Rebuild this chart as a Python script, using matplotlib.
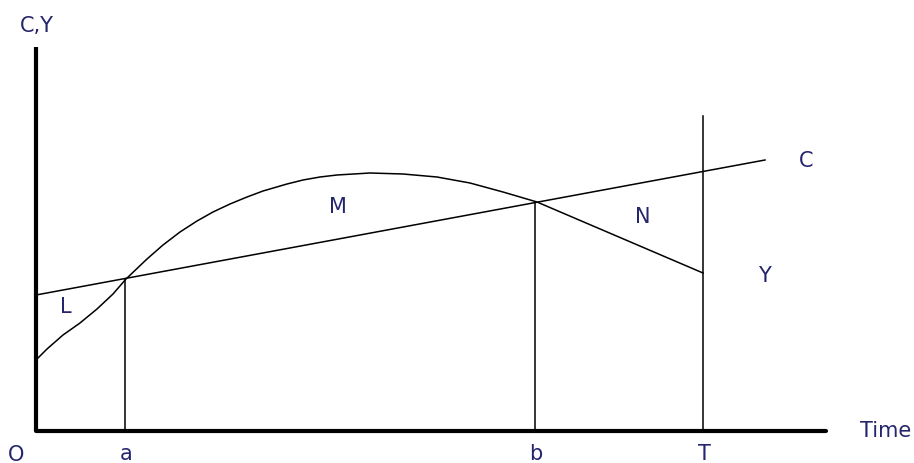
import matplotlib.pyplot as plt

plt.rcParams['font.family'] = ['DejaVu Sans']

# time measured from O, value in the same (arbitrary) units
c_time = [0, 729]
c_val = [136, 271]

y_time = [0, 11, 27, 44, 61, 77, 90, 111, 127, 144, 161, 177, 194, 211, 227,
          251, 267, 284, 301, 334, 367, 401, 434, 467, 501, 667]
y_val = [71, 82, 96, 108, 122, 137, 152, 172, 186, 199, 210, 219, 227, 234, 240,
         247, 251, 254, 256, 258, 257, 254, 248, 239, 229, 158]

# marked points on the time axis and how high their lines go
mark_time = [89, 499, 667]
mark_top = [152, 228, 315]
mark_names = ['a', 'b', 'T']

x_end = 790
y_end = 384

txt_col = '#25256e'

fig = plt.figure(figsize=(9.14, 4.64), dpi=100)
ax = fig.add_axes([0, 0, 1, 1])
ax.set_xlim(-36, 878)
ax.set_ylim(-32, 432)
ax.axis('off')

# axes
ax.plot([0, 0], [0, y_end], color='black', lw=3, solid_capstyle='butt')
ax.plot([0, x_end], [0, 0], color='black', lw=3, solid_capstyle='round')

# C and Y lines
ax.plot(c_time, c_val, color='black', lw=1.1)
ax.plot(y_time, y_val, color='black', lw=1.1, solid_joinstyle='round')

# verticals at a, b, T
for t, top in zip(mark_time, mark_top):
    ax.plot([t, t], [0, top], color='black', lw=1.1)

# labels
kw = dict(color=txt_col, fontsize=15, ha='center', va='baseline')
ax.text(1, 400, 'C,Y', **kw)
ax.text(850, -5, 'Time', **kw)
ax.text(-20, -29, 'O', **kw)
for t, name in zip(mark_time, mark_names):
    ax.text(t + 1, -28, name, **kw)
ax.text(30, 119, 'L', **kw)
ax.text(302, 219, 'M', **kw)
ax.text(607, 209, 'N', **kw)
ax.text(770, 265, 'C', **kw)
ax.text(728, 150, 'Y', **kw)

fig.savefig('out.png', dpi=100, facecolor='white')
